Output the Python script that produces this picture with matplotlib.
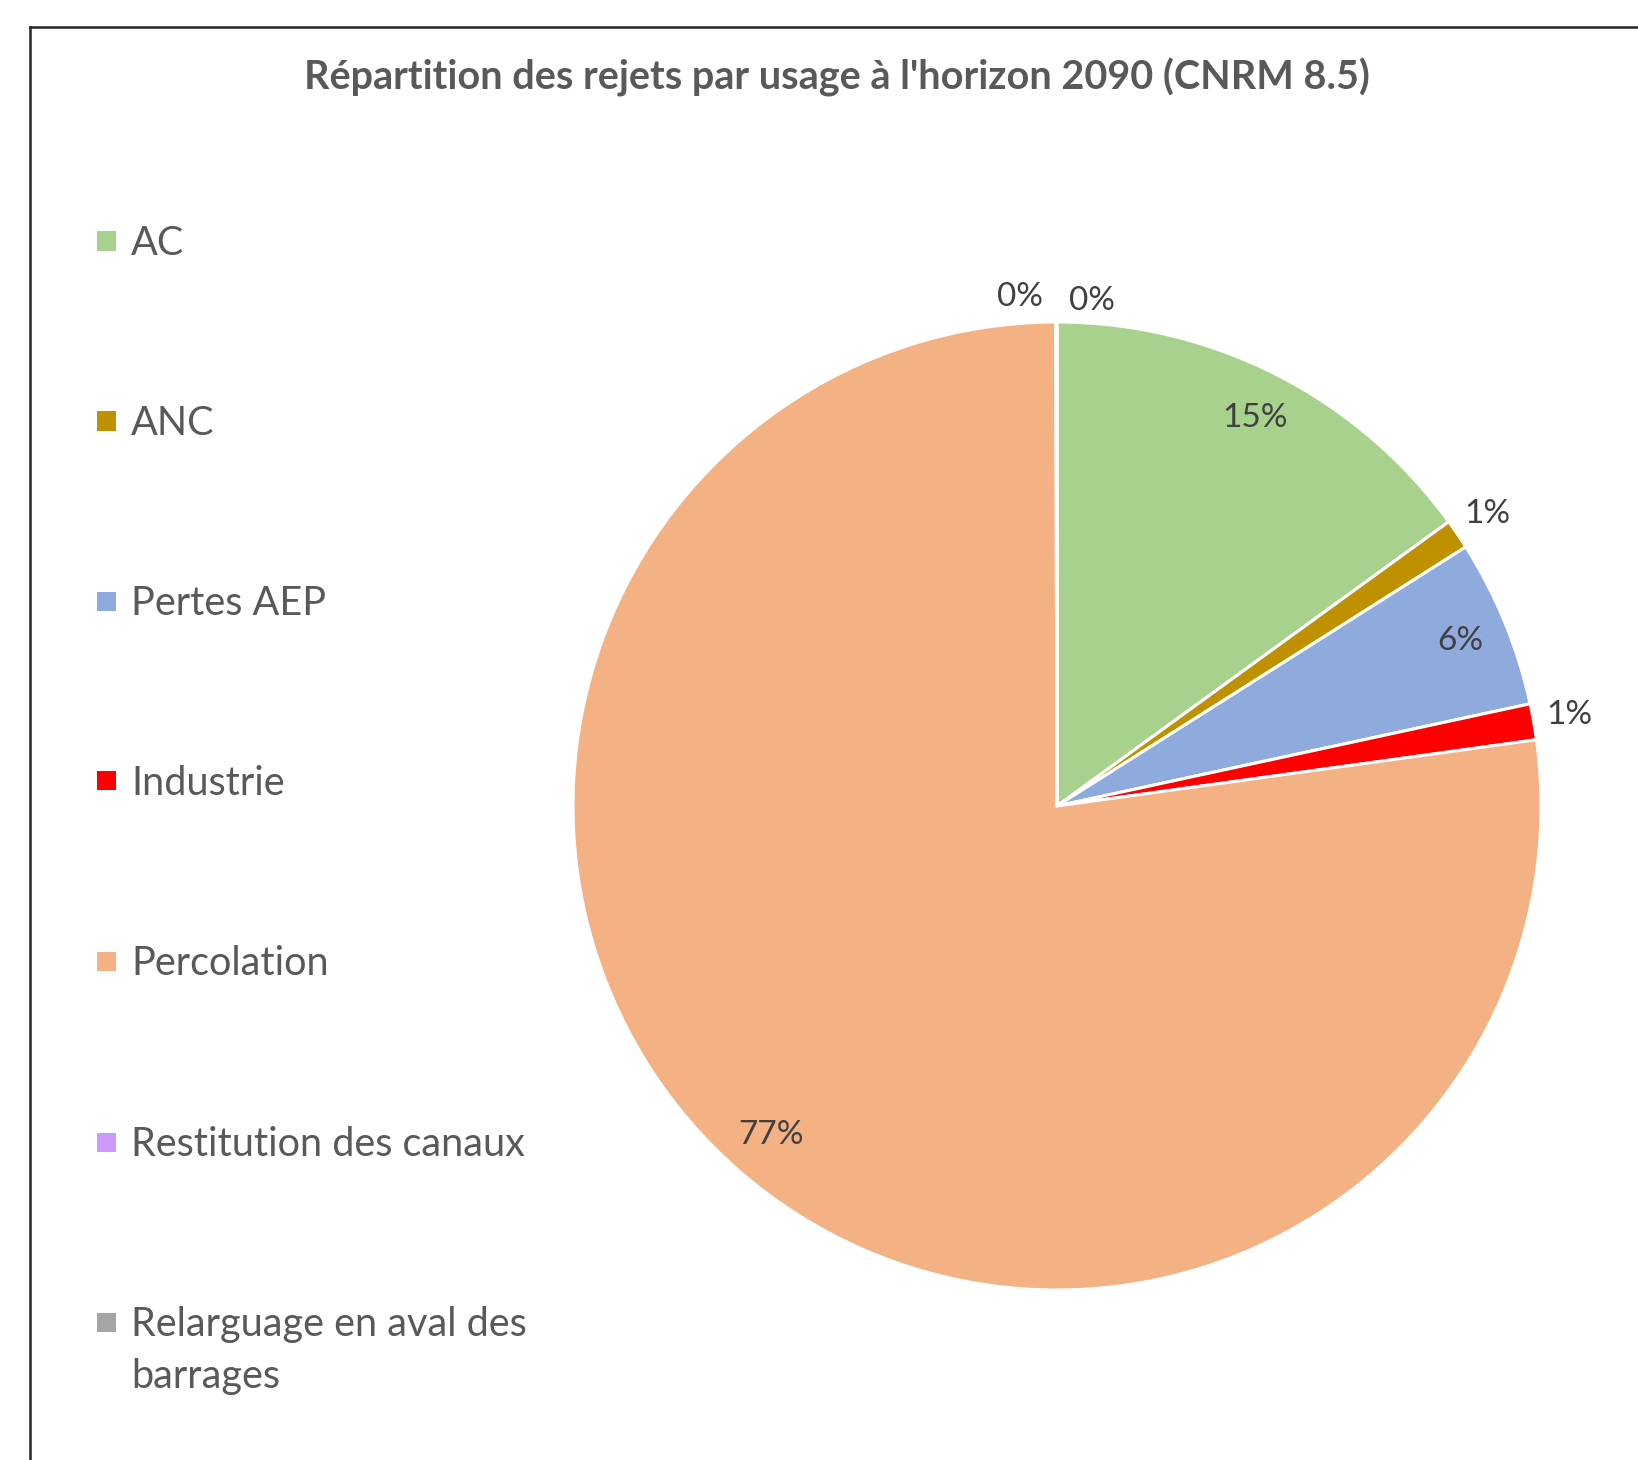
import matplotlib.pyplot as plt
from matplotlib.patches import Rectangle
from matplotlib.lines import Line2D
import numpy as np

plt.rcParams['font.family'] = ['Lato', 'DejaVu Sans']

# data
categories = ['AC', 'ANC', 'Pertes AEP', 'Industrie', 'Percolation',
              'Restitution des canaux', 'Relarguage en aval des\nbarrages']
values = [15.0, 1.0, 5.6, 1.2, 77.1, 0.02, 0.02]
colors = ['#A9D18E', '#BF9000', '#8FAADC', '#FF0000', '#F4B183', '#CC99FF', '#A5A5A5']
title = "Répartition des rejets par usage à l'horizon 2090 (CNRM 8.5)"

W, H = 1638, 1460
fig = plt.figure(figsize=(W / 100, H / 100), dpi=100)

# frame (top + left visible)
fig.add_artist(Line2D([30 / W, 30 / W], [0, 1 - 27 / H], transform=fig.transFigure,
                      color='#262626', linewidth=1.8))
fig.add_artist(Line2D([30 / W, 1], [1 - 27 / H, 1 - 27 / H], transform=fig.transFigure,
                      color='#262626', linewidth=1.8))

# pie axes: center (1057, 806), radius 484 px
cx, cy, r = 1057, 806, 484
ax = fig.add_axes([(cx - r) / W, (H - cy - r) / H, 2 * r / W, 2 * r / H])
wedges, _ = ax.pie(values, colors=colors, startangle=90, counterclock=False,
                   wedgeprops=dict(edgecolor='white', linewidth=2.2))
ax.set_xlim(-1, 1)
ax.set_ylim(-1, 1)
ax.axis('off')

# percent labels
total = sum(values)
zero_shift = {5: 4.0, 6: -4.0}
zero_dist = {5: 1.055, 6: 1.045}
for i, w in enumerate(wedges):
    pct = values[i] / total * 100
    mid = (w.theta1 + w.theta2) / 2
    if pct < 2:
        dist = zero_dist.get(i, 1.075)
        mid += zero_shift.get(i, 0)
    else:
        dist = 0.9
    x = dist * np.cos(np.radians(mid))
    y = dist * np.sin(np.radians(mid))
    ax.text(x, y, f'{pct:.0f}%', ha='center', va='center', fontsize=24,
            color='#404040', clip_on=False)

# title
fig.text(837 / W, 1 - 77 / H, title, ha='center', va='center', fontsize=28.5,
         fontweight='bold', color='#595959')

# legend drawn by hand
row_y = [241, 421, 601, 781, 961, 1142, 1322]
for lab, col, yy in zip(categories, colors, row_y):
    fig.add_artist(Rectangle((97 / W, 1 - (yy + 9.5) / H), 19 / W, 19 / H,
                             transform=fig.transFigure, facecolor=col, edgecolor='none'))
    for k, line in enumerate(lab.split('\n')):
        fig.text(131 / W, 1 - (yy + 14 + 52 * k) / H, line, ha='left', va='baseline',
                 fontsize=28.5, color='#595959')

fig.savefig('out.png', dpi=100, facecolor='white')
